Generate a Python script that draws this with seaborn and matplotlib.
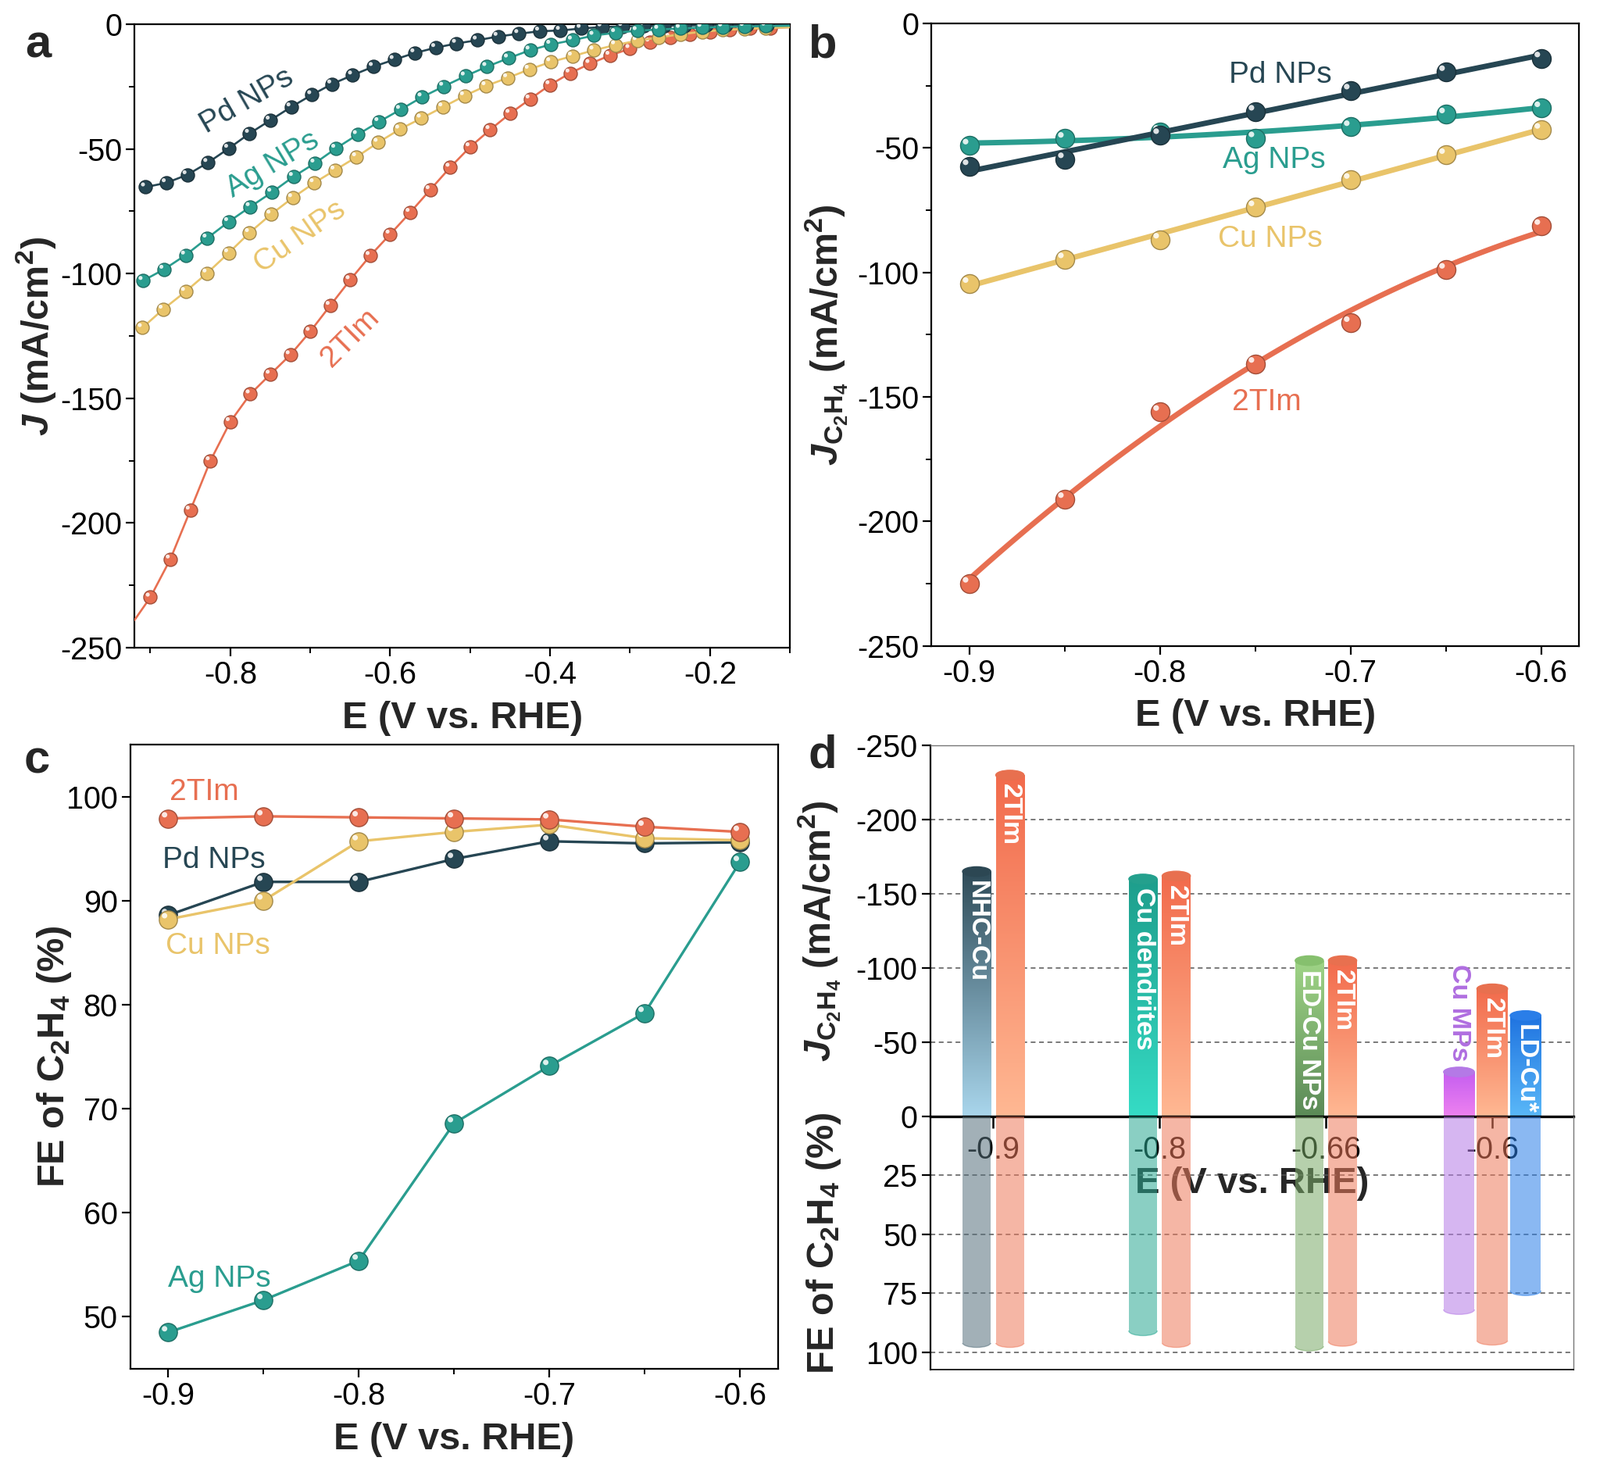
import numpy as np
import pandas as pd
import seaborn as sns
import matplotlib.pyplot as plt
from matplotlib.colors import LinearSegmentedColormap, to_rgb
from matplotlib.patches import Ellipse, Rectangle
from matplotlib.ticker import MultipleLocator
from matplotlib.transforms import offset_copy

# ------------------------------------------------------------------
# values
# ------------------------------------------------------------------
colors = {"Pd NPs": "#264653", "Ag NPs": "#2a9d8f", "Cu NPs": "#e9c46a", "2TIm": "#e76f51"}

# (a) LSV curves (marker points)
a_E_pd = [-0.906, -0.880, -0.854, -0.828, -0.802, -0.776, -0.750, -0.724, -0.698, -0.673, -0.647,
          -0.621, -0.595, -0.569, -0.543, -0.517, -0.491, -0.465, -0.439, -0.413, -0.387, -0.361,
          -0.335, -0.309, -0.283, -0.257, -0.232, -0.205, -0.180, -0.154, -0.128]
a_J_pd = [-65.3, -63.6, -60.4, -55.5, -49.8, -43.8, -38.5, -33.2, -28.3, -24.0, -20.4, -17.0, -14.2,
          -11.5, -9.4, -7.7, -6.4, -4.9, -3.8, -2.8, -2.5, -1.7, -1.1, -0.9, -0.75, -0.6, -0.5, -0.4,
          -0.4, -0.3, -0.3]
a_E_ag = [-0.909, -0.883, -0.856, -0.829, -0.802, -0.775, -0.748, -0.721, -0.694, -0.668, -0.641,
          -0.614, -0.587, -0.560, -0.533, -0.506, -0.479, -0.452, -0.425, -0.399, -0.372, -0.345,
          -0.318, -0.291, -0.264, -0.237, -0.210, -0.184, -0.157, -0.130]
a_J_ag = [-102.8, -98.3, -92.6, -85.8, -79.2, -73.2, -67.4, -61.1, -55.7, -49.8, -44.3, -39.1, -34.2,
          -29.2, -24.9, -20.8, -17.0, -13.6, -10.4, -8.1, -6.4, -4.5, -3.4, -2.6, -2.1, -1.7, -1.3,
          -1.1, -0.9, -0.75]
a_E_cu = [-0.910, -0.884, -0.856, -0.829, -0.802, -0.776, -0.749, -0.722, -0.695, -0.669, -0.642,
          -0.615, -0.588, -0.561, -0.534, -0.507, -0.480, -0.453, -0.426, -0.399, -0.372, -0.345,
          -0.318, -0.291, -0.264, -0.237, -0.210, -0.184, -0.157, -0.130]
a_J_cu = [-121.7, -114.3, -107.2, -99.8, -91.7, -83.6, -76.2, -69.6, -63.6, -58.5, -53.2, -47.4,
          -42.1, -37.7, -33.2, -28.7, -24.7, -21.5, -18.1, -15.1, -12.8, -10.4, -8.3, -6.6, -5.3,
          -4.0, -3.0, -2.3, -1.9, -1.5]
a_E_ti = [-0.900, -0.875, -0.850, -0.825, -0.800, -0.775, -0.750, -0.725, -0.700, -0.675, -0.650,
          -0.625, -0.600, -0.575, -0.550, -0.525, -0.500, -0.475, -0.450, -0.425, -0.400, -0.375,
          -0.350, -0.325, -0.300, -0.275, -0.250, -0.225, -0.200, -0.175, -0.150, -0.125]
a_J_ti = [-229.8, -214.5, -194.9, -175.1, -159.4, -148.3, -140.4, -132.6, -123.2, -112.8, -102.5,
          -92.8, -84.2, -75.5, -66.4, -57.4, -49.2, -42.3, -35.8, -30.0, -24.3, -19.6, -15.8, -12.5,
          -9.8, -7.2, -5.3, -4.0, -3.0, -2.3, -1.7, -1.5]
# curve ends beyond the markers
a_start = {"2TIm": (-0.92, -239.0)}
a_end = {"Pd NPs": (-0.10, -0.3), "Ag NPs": (-0.10, -0.6), "Cu NPs": (-0.10, -1.2), "2TIm": (-0.10, -1.2)}

# (b) partial current density of C2H4, (c) FE of C2H4
E_fix = [-0.9, -0.85, -0.8, -0.75, -0.7, -0.65, -0.6]
b_J = {
    "Pd NPs": [-57.3, -54.5, -44.8, -35.4, -26.9, -19.5, -14.0],
    "Ag NPs": [-49.0, -46.3, -43.5, -46.1, -41.6, -36.5, -34.0],
    "Cu NPs": [-104.6, -94.7, -86.8, -73.8, -62.8, -52.8, -42.7],
    "2TIm": [-225.0, -191.0, -156.0, -136.7, -120.3, -98.9, -81.3],
}
b_fit_order = {"Pd NPs": 1, "Ag NPs": 2, "Cu NPs": 1, "2TIm": 2}
c_FE = {
    "Ag NPs": [48.5, 51.6, 55.4, 68.6, 74.1, 79.2, 93.7],
    "Pd NPs": [88.6, 91.8, 91.8, 94.0, 95.7, 95.5, 95.6],
    "Cu NPs": [88.2, 90.0, 95.7, 96.6, 97.3, 96.0, 95.8],
    "2TIm": [97.9, 98.1, 98.0, 97.9, 97.8, 97.1, 96.6],
}

# (d) comparison with literature
d_potentials = ["-0.9", "-0.8", "-0.66", "-0.6"]
d_names = ["NHC-Cu", "2TIm", "Cu dendrites", "2TIm", "ED-Cu NPs", "2TIm", "Cu MPs", "2TIm", "LD-Cu*"]
d_group = [0, 0, 1, 1, 2, 2, 3, 3, 3]
d_J = [-165, -230, -160, -162, -105, -105, -30, -86, -68]
d_FE = [98, 98, 93, 98, 99.5, 97.5, 84, 97, 76]

# colours of the cylinders: (top, bottom, cap, pale FE colour)
d_style = {
    "NHC-Cu": ("#2e4b58", "#a9d6ec", "#2c4753", "#56707c"),
    "2TIm": ("#f26b4c", "#ffb893", "#e8704f", "#ee7a5c"),
    "Cu dendrites": ("#1e9e8c", "#35dcc5", "#24a08d", "#2aa893"),
    "ED-Cu NPs": ("#9fd486", "#5b8a57", "#86c06e", "#7aaa68"),
    "Cu MPs": ("#c55ef0", "#ee82f0", "#b479e6", "#b57be6"),
    "LD-Cu*": ("#1f73e0", "#5ab8f8", "#2a7ee8", "#2a7ee8"),
}

# ------------------------------------------------------------------
sns.set_theme(style="ticks")
plt.rcParams.update({
    "font.family": ["Liberation Sans", "DejaVu Sans"],
    "mathtext.fontset": "custom",
    "mathtext.rm": "Liberation Sans:bold",
    "mathtext.it": "Liberation Sans:italic:bold",
    "mathtext.bf": "Liberation Sans:bold",
    "axes.unicode_minus": False,
    "axes.linewidth": 1.6,
    "axes.edgecolor": "black",
    "xtick.labelsize": 28.5,
    "ytick.labelsize": 28.5,
    "xtick.major.size": 8, "ytick.major.size": 8,
    "xtick.minor.size": 5, "ytick.minor.size": 5,
    "xtick.major.width": 1.6, "ytick.major.width": 1.6,
    "xtick.minor.width": 1.4, "ytick.minor.width": 1.4,
    "xtick.direction": "out", "ytick.direction": "out",
    "xtick.color": "black", "ytick.color": "black",
})

LAB = dict(fontsize=35, fontweight="bold")
ANN = 28

fig = plt.figure(figsize=(20.48, 18.70), dpi=100)


def spheres(ax, x, y, color, s, z):
    edge = tuple(0.7 * c for c in to_rgb(color))
    sns.scatterplot(x=x, y=y, ax=ax, color=color, s=s, edgecolor=edge, linewidth=1.0,
                    zorder=z, legend=False)
    d = np.sqrt(s)
    sns.scatterplot(x=x, y=y, ax=ax, color="white", s=s * 0.09, edgecolor="none", alpha=0.85,
                    zorder=z + 0.5, legend=False)
    ax.collections[-1].set_offset_transform(
        offset_copy(ax.transData, fig=fig, x=-0.2 * d, y=0.2 * d, units="points"))


# ---------------- (a) ----------------
ax_a = fig.add_axes([0.084, 0.5567, 0.4097, 0.4267])
a_series = {
    "2TIm": (a_E_ti, a_J_ti),
    "Cu NPs": (a_E_cu, a_J_cu),
    "Pd NPs": (a_E_pd, a_J_pd),
    "Ag NPs": (a_E_ag, a_J_ag),
}
for k, (name, (E, J)) in enumerate(a_series.items()):
    E_line, J_line = list(E), list(J)
    if name in a_start:
        E_line = [a_start[name][0]] + E_line
        J_line = [a_start[name][1]] + J_line
    E_line.append(a_end[name][0])
    J_line.append(a_end[name][1])
    df = pd.DataFrame({"E": E_line, "J": J_line})
    sns.lineplot(data=df, x="E", y="J", ax=ax_a, color=colors[name], lw=1.9,
                 estimator=None, zorder=3 + 2 * k)
    spheres(ax_a, E, J, colors[name], 150, 4 + 2 * k)

ax_a.set_xlim(-0.92, -0.10)
ax_a.set_ylim(-250, 0)
ax_a.xaxis.set_major_locator(MultipleLocator(0.2))
ax_a.xaxis.set_minor_locator(MultipleLocator(0.1))
ax_a.yaxis.set_major_locator(MultipleLocator(50))
ax_a.yaxis.set_minor_locator(MultipleLocator(25))
ax_a.set_xlabel("E (V vs. RHE)", **LAB)
ax_a.set_ylabel(r"$J$ (mA/cm$^2$)", **LAB)
ax_a.yaxis.set_label_coords(-0.117, 0.5)
ax_a.xaxis.set_label_coords(0.5, -0.085)
a_labels = [("Pd NPs", -0.779, -30.8, 30), ("Ag NPs", -0.747, -56.2, 31),
            ("Cu NPs", -0.713, -85.5, 35), ("2TIm", -0.650, -125.7, 45)]
for name, x, y, rot in a_labels:
    ax_a.text(x, y, name, color=colors[name], fontsize=ANN, rotation=rot,
              rotation_mode="anchor", ha="center", va="center", zorder=20)

# ---------------- (b) ----------------
ax_b = fig.add_axes([0.582, 0.558, 0.405, 0.426])
for k, name in enumerate(["2TIm", "Cu NPs", "Ag NPs", "Pd NPs"]):
    sns.regplot(x=np.array(E_fix), y=np.array(b_J[name]), ax=ax_b, order=b_fit_order[name],
                ci=None, scatter=False, color=colors[name], line_kws={"lw": 5, "zorder": 3 + 2 * k})
    spheres(ax_b, E_fix, b_J[name], colors[name], 300, 4 + 2 * k)
ax_b.set_xlim(-0.92, -0.58)
ax_b.set_ylim(-250, 0)
ax_b.xaxis.set_major_locator(MultipleLocator(0.1))
ax_b.xaxis.set_minor_locator(MultipleLocator(0.05))
ax_b.yaxis.set_major_locator(MultipleLocator(50))
ax_b.yaxis.set_minor_locator(MultipleLocator(25))
ax_b.set_xlabel("E (V vs. RHE)", **LAB)
ax_b.set_ylabel(r"$J_{\mathrm{C_2H_4}}$ (mA/cm$^2$)", **LAB)
ax_b.yaxis.set_label_coords(-0.125, 0.5)
ax_b.xaxis.set_label_coords(0.5, -0.085)
b_labels = [("Pd NPs", -0.737, -20.8), ("Ag NPs", -0.740, -54.8),
            ("Cu NPs", -0.742, -86.6), ("2TIm", -0.744, -152.2)]
for name, x, y in b_labels:
    ax_b.text(x, y, name, color=colors[name], fontsize=ANN, ha="center", va="center", zorder=20)

# ---------------- (c) ----------------
ax_c = fig.add_axes([0.0813, 0.0631, 0.405, 0.4273])
for k, name in enumerate(["Ag NPs", "Pd NPs", "Cu NPs", "2TIm"]):
    df = pd.DataFrame({"E": E_fix, "FE": c_FE[name]})
    sns.lineplot(data=df, x="E", y="FE", ax=ax_c, color=colors[name], lw=2.4,
                 estimator=None, zorder=3 + 2 * k)
    spheres(ax_c, E_fix, c_FE[name], colors[name], 280, 4 + 2 * k)
ax_c.set_xlim(-0.92, -0.58)
ax_c.set_ylim(45, 105)
ax_c.xaxis.set_major_locator(MultipleLocator(0.1))
ax_c.xaxis.set_minor_locator(MultipleLocator(0.05))
ax_c.yaxis.set_major_locator(MultipleLocator(10))
ax_c.set_xlabel("E (V vs. RHE)", **LAB)
ax_c.set_ylabel(r"FE of C$_2$H$_4$ (%)", **LAB)
ax_c.yaxis.set_label_coords(-0.088, 0.5)
ax_c.xaxis.set_label_coords(0.5, -0.085)
c_labels = [("2TIm", -0.881, 100.45), ("Pd NPs", -0.876, 93.9),
            ("Cu NPs", -0.874, 85.6), ("Ag NPs", -0.873, 53.6)]
for name, x, y in c_labels:
    ax_c.text(x, y, name, color=colors[name], fontsize=ANN, ha="center", va="center", zorder=20)

# ---------------- (d) ----------------
ax_dt = fig.add_axes([0.5813, 0.2358, 0.4023, 0.254])
ax_db = fig.add_axes([0.5813, 0.0626, 0.4023, 0.1733])
ax_db.set_zorder(ax_dt.get_zorder() + 1)
ax_db.patch.set_visible(False)

cap_t, cap_b = 6.5, 4.0
for i, name in enumerate(d_names):
    g = d_group[i]
    members = [j for j in range(len(d_names)) if d_group[j] == g]
    pos = members.index(i)
    n = len(members)
    x = g + (pos - (n - 1) / 2) * 0.2
    w = 0.17 if n == 2 else 0.185
    top_c, bot_c, cap_c, pale = d_style[name]

    # upper: partial current density, gradient cylinder
    bar = ax_dt.bar(x, d_J[i], width=w, color="none", edgecolor="none", zorder=2)[0]
    cmap = LinearSegmentedColormap.from_list(name, [bot_c, top_c])
    img = ax_dt.imshow(np.linspace(0, 1, 256).reshape(-1, 1), cmap=cmap, aspect="auto",
                       origin="lower", extent=(x - w / 2, x + w / 2, 0, d_J[i]),
                       interpolation="bicubic", zorder=2)
    img.set_clip_path(bar)
    ax_dt.add_patch(Ellipse((x, d_J[i]), w, cap_t, color=cap_c, zorder=3))

    if name == "Cu MPs":
        ax_dt.text(x, d_J[i] - 7, name, rotation=-90, ha="center", va="bottom",
                   color="#b06ee0", fontsize=24.5, fontweight="bold", zorder=5)
    else:
        ax_dt.text(x, d_J[i] + 6, name, rotation=-90, ha="center", va="top",
                   color="white", fontsize=24.5, fontweight="bold", zorder=5)

    # lower: faradaic efficiency, pale tube with rounded end
    end = d_FE[i] - cap_b / 2
    ax_db.bar(x, end, width=w, color=pale, alpha=0.55, edgecolor="none", zorder=2)
    e = Ellipse((x, end), w, cap_b, color=pale, alpha=0.55, zorder=2)
    ax_db.add_patch(e)
    e.set_clip_path(Rectangle((x - w, end), 2 * w, cap_b, transform=ax_db.transData))

ax_dt.set_xlim(-0.38, 3.49)
ax_db.set_xlim(-0.38, 3.49)
ax_dt.set_ylim(0, -250)
ax_db.set_ylim(107.4, 0)

ax_dt.set_xticks(range(len(d_potentials)))
ax_dt.set_xticklabels(d_potentials)
ax_dt.tick_params(axis="x", length=11, width=1.8, pad=6)
ax_dt.set_yticks([-250, -200, -150, -100, -50, 0])
ax_db.set_yticks([25, 50, 75, 100])
ax_db.set_xticks([])
ax_dt.set_xlabel("E (V vs. RHE)", fontsize=34, fontweight="bold", labelpad=2)
ax_dt.set_ylabel(r"$J_{\mathrm{C_2H_4}}$ (mA/cm$^2$)", **LAB)
ax_db.set_ylabel(r"FE of C$_2$H$_4$ (%)", **LAB)
ax_dt.yaxis.set_label_coords(-0.135, 0.5)
ax_db.yaxis.set_label_coords(-0.135, 0.5)

for ax in (ax_dt, ax_db):
    ax.set_axisbelow(True)
    ax.yaxis.grid(True, linestyle=(0, (4, 3)), color="#555555", lw=1.1)
    ax.spines["right"].set_color("#777777")
    ax.spines["right"].set_linewidth(1.0)
ax_dt.spines["top"].set_color("#777777")
ax_dt.spines["top"].set_linewidth(1.0)
ax_dt.spines["bottom"].set_linewidth(2.4)
ax_db.spines["top"].set_visible(False)
ax_db.spines["bottom"].set_linewidth(1.2)

# panel letters
for letter, (px, py) in zip("abcd", [(0.024, 0.969), (0.514, 0.969), (0.023, 0.479), (0.514, 0.483)]):
    fig.text(px, py, letter, fontsize=43, fontweight="bold", ha="center", va="center")

fig.savefig("out.png", dpi=100)
